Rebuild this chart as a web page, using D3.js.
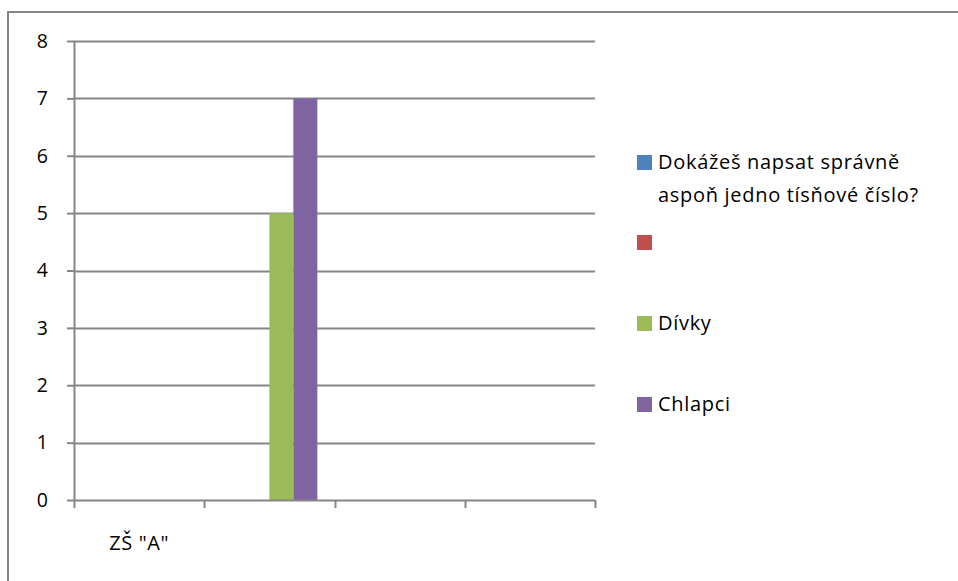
<!DOCTYPE html>
<html><head><meta charset="utf-8">
<script src="https://cdn.jsdelivr.net/npm/d3@7"></script>
<style>
html,body{margin:0;padding:0;background:#fff;}
text{font-family:"Open Sans","Liberation Sans",sans-serif;fill:#000;}
</style></head>
<body><svg id="chart" width="958" height="581"></svg>
<script>
const categories = ['ZŠ "A"', '', '', ''];
const seriesNames = ['Dokážeš napsat správně aspoň jedno tísňové číslo?', '', 'Dívky', 'Chlapci'];
const seriesColors = ['#4f81bd', '#c0504d', '#9bbb59', '#8064a2'];
const seriesBlue = [null, null, null, null];
const seriesRed = [null, null, null, null];
const seriesDivky = [null, 5, null, null];
const seriesChlapci = [null, 7, null, null];
const yTicks = [0, 1, 2, 3, 4, 5, 6, 7, 8];
const legendLines = [['Dokážeš napsat správně', 'aspoň jedno tísňové číslo?'], [''], ['Dívky'], ['Chlapci']];

const series = [seriesBlue, seriesRed, seriesDivky, seriesChlapci];
const svg = d3.select('#chart');
const grid = '#868686';

// outer border
svg.append('rect').attr('x', 8).attr('y', 12).attr('width', 958).attr('height', 600)
  .attr('fill', 'none').attr('stroke', grid).attr('stroke-width', 2);

const x0 = 74, x1 = 595, yTop = 41, yBot = 500;
const x = d3.scaleBand().domain(d3.range(categories.length)).range([x0, x1]).paddingInner(0).paddingOuter(0);
const xs = d3.scaleBand().domain(d3.range(series.length)).range([0, x.bandwidth()]).paddingInner(0).paddingOuter(0.714);
const y = d3.scaleLinear().domain([0, 8]).range([yBot, yTop]);

// gridlines
svg.append('g').selectAll('line').data(yTicks.filter(d => d > 0)).join('line')
  .attr('x1', x0).attr('x2', x1).attr('y1', d => Math.round(y(d)) + 0.5).attr('y2', d => Math.round(y(d)) + 0.5)
  .attr('stroke', grid).attr('stroke-width', 2);

// bars
series.forEach((vals, si) => {
  svg.append('g').selectAll('rect').data(vals.map((v, i) => ({v, i})).filter(d => d.v != null)).join('rect')
    .attr('x', d => x(d.i) + xs(si)).attr('width', xs.bandwidth())
    .attr('y', d => y(d.v)).attr('height', d => y(0) - y(d.v))
    .attr('fill', seriesColors[si]);
});

// y axis
const yAxis = d3.axisLeft(y).tickValues(yTicks).tickSize(7).tickPadding(19).tickFormat(d3.format('d'));
const gy = svg.append('g').attr('transform', `translate(${x0},0)`).call(yAxis);
gy.select('.domain').attr('stroke', grid).attr('stroke-width', 2).attr('d', `M0.5,${yTop}V${yBot}`);
gy.selectAll('.tick line').attr('stroke', grid).attr('stroke-width', 2);
gy.selectAll('.tick text').attr('font-size', 19.5).attr('font-family', '"Open Sans",sans-serif').attr('fill', '#000');

// x axis
const tickPos = d3.range(categories.length + 1).map(i => x0 + i * x.step());
svg.append('line').attr('x1', x0).attr('x2', x1).attr('y1', yBot + 0.5).attr('y2', yBot + 0.5)
  .attr('stroke', grid).attr('stroke-width', 2);
svg.append('g').selectAll('line').data(tickPos).join('line')
  .attr('x1', d => Math.round(d) + 0.5).attr('x2', d => Math.round(d) + 0.5).attr('y1', yBot).attr('y2', yBot + 8)
  .attr('stroke', grid).attr('stroke-width', 2);
svg.append('g').selectAll('text').data(categories).join('text')
  .attr('x', (d, i) => x(i) + x.bandwidth() / 2).attr('y', 550)
  .attr('text-anchor', 'middle').attr('font-size', 20).attr('letter-spacing', 0.6).text(d => d);

// legend
const legendY = [155, 235, 316, 397];
const lg = svg.append('g');
legendLines.forEach((lines, i) => {
  lg.append('rect').attr('x', 637).attr('y', legendY[i]).attr('width', 15).attr('height', 15).attr('fill', seriesColors[i]);
  lines.forEach((t, j) => {
    lg.append('text').attr('x', 658).attr('y', legendY[i] + 14 + j * 33)
      .attr('font-size', 20).attr('letter-spacing', 0.7).text(t);
  });
});
</script></body></html>
